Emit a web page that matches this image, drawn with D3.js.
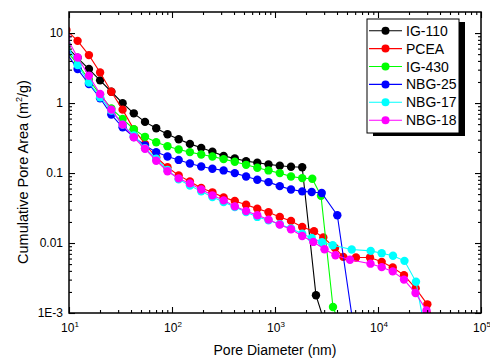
<!DOCTYPE html>
<html><head><meta charset="utf-8">
<script src="https://cdn.jsdelivr.net/npm/d3@7/dist/d3.min.js"></script>
<style>body{margin:0;background:#fff}svg{display:block;font-family:"Liberation Sans",Arial,sans-serif}</style>
</head><body>
<svg id="c" width="490" height="361"></svg>
<script>
// ---- data ----
const seriesNames = ["IG-110","PCEA","IG-430","NBG-25","NBG-17","NBG-18"];
const seriesColors = ["#000000","#ff0000","#00ff00","#0000ff","#00ffff","#ff00ff"];
const gridDiameter = [9.44,12.12,15.61,20.04,25.75,33.14,42.58,54.69,70.25,90.41,116.1,149.2,192.1,246.7,317.0,407.1,524.1,673.3,864.9,1113,1430,1837];

const ig110Tail = [2500,3199];
const ig110Area = [6.44,4.43,3.06,2.11,1.45,0.997,0.713,0.538,0.436,0.358,0.304,0.261,0.229,0.201,0.176,0.161,0.148,0.140,0.133,0.127,0.123,0.121,0.00179,0.00057];

const pceaTail = [2391,2944,3823,4603,6115,8356,10860,13900,17870,23220,30130,37410];
const pceaArea = [11.1,7.74,4.84,2.74,1.45,0.805,0.421,0.261,0.168,0.121,0.0925,0.0758,0.0610,0.0530,0.0449,0.0398,0.0353,0.0310,0.0275,0.0236,0.0207,0.0169,0.0147,0.0120,0.00851,0.00634,0.00621,0.00621,0.00538,0.00448,0.00348,0.00225,0.00133,0.00057];

const ig430Tail = [2301,2797,3656,4276];
const ig430Area = [5.58,3.64,2.15,1.32,0.840,0.594,0.422,0.329,0.275,0.242,0.217,0.199,0.184,0.172,0.158,0.145,0.131,0.119,0.109,0.0997,0.0894,0.0846,0.0830,0.0472,0.00122,0.00067];

const nbg25Tail = [2270,2841,4027,5848];
const nbg25Area = [5.22,3.06,1.87,1.17,0.684,0.451,0.327,0.247,0.199,0.172,0.154,0.137,0.124,0.115,0.109,0.0997,0.0894,0.0803,0.0741,0.0650,0.0583,0.0547,0.0535,0.0518,0.0249,0.00057];

const nbg17Tail = [2270,2858,3631,5556,8491,10860,13980,18070,23380,29910];
const nbg17Area = [7.18,3.49,1.97,1.21,0.780,0.492,0.344,0.226,0.160,0.111,0.0811,0.0665,0.0547,0.0454,0.0385,0.0327,0.0277,0.0236,0.0211,0.0185,0.0161,0.0136,0.0118,0.01026,0.00930,0.00808,0.00772,0.00716,0.00659,0.00556,0.00279,0.00040];

const nbg18Tail = [2355,3024,3864,5346,8453,10860,13900,17870,23130,29580,37410];
const nbg18Area = [8.83,4.48,2.46,1.35,0.805,0.492,0.324,0.222,0.150,0.106,0.0838,0.0711,0.0583,0.0480,0.0407,0.0334,0.0286,0.0249,0.0216,0.0183,0.0157,0.0126,0.01037,0.00816,0.00670,0.00578,0.00507,0.00452,0.00393,0.00300,0.00193,0.00109,0.00041];

const xTickValues = [10,100,1000,10000,100000];
const xTickExponents = ["1","2","3","4","5"];
const yTickValues = [0.001,0.01,0.1,1,10];
const yTickLabels = ["1E-3","0.01","0.1","1","10"];

// ---- build ----
const tails = [ig110Tail,pceaTail,ig430Tail,nbg25Tail,nbg17Tail,nbg18Tail];
const areas = [ig110Area,pceaArea,ig430Area,nbg25Area,nbg17Area,nbg18Area];
const series = seriesNames.map((n,i)=>{
  const xs = gridDiameter.concat(tails[i]);
  return {name:n,color:seriesColors[i],pts:areas[i].map((v,j)=>({x:xs[j],y:v}))};
});

const L=69,R=481,T=12,B=313;
const x = d3.scaleLog().domain([10,1e5]).range([L,R]);
const y = d3.scaleLog().domain([0.001,20]).range([B,T]);
const svg = d3.select("#c");

svg.append("defs").append("clipPath").attr("id","clip")
  .append("rect").attr("x",L).attr("y",T).attr("width",R-L).attr("height",B-T);

const minorOf = (majors)=>{const m=[];majors.slice(0,-1).forEach(d=>{for(let k=2;k<=9;k++)m.push(d*k);});return m;};
const xMinor = minorOf(xTickValues);
const yMinor = minorOf(yTickValues);

// data
const plot = svg.append("g").attr("clip-path","url(#clip)");
const line = d3.line().x(d=>x(d.x)).y(d=>y(d.y));
series.forEach(s=>{
  const g = plot.append("g");
  g.append("path").attr("d",line(s.pts)).attr("fill","none").attr("stroke",s.color).attr("stroke-width",1.1);
  g.selectAll("circle").data(s.pts).join("circle")
    .attr("cx",d=>x(d.x)).attr("cy",d=>y(d.y)).attr("r",4.2).attr("fill",s.color);
});

// axes
function styleAxis(g){g.select(".domain").remove();g.selectAll("line").attr("stroke","#000").attr("stroke-width",1.1);g.selectAll("text").remove();}
svg.append("g").attr("transform",`translate(0,${B})`).call(d3.axisBottom(x).tickValues(xTickValues).tickSize(-6)).call(styleAxis);
svg.append("g").attr("transform",`translate(0,${B})`).call(d3.axisBottom(x).tickValues(xMinor).tickSize(-3)).call(styleAxis);
svg.append("g").attr("transform",`translate(0,${T})`).call(d3.axisTop(x).tickValues(xTickValues).tickSize(-6)).call(styleAxis);
svg.append("g").attr("transform",`translate(0,${T})`).call(d3.axisTop(x).tickValues(xMinor).tickSize(-3)).call(styleAxis);
svg.append("g").attr("transform",`translate(${L},0)`).call(d3.axisLeft(y).tickValues(yTickValues).tickSize(-6)).call(styleAxis);
svg.append("g").attr("transform",`translate(${L},0)`).call(d3.axisLeft(y).tickValues(yMinor).tickSize(-3)).call(styleAxis);
svg.append("g").attr("transform",`translate(${R},0)`).call(d3.axisRight(y).tickValues(yTickValues).tickSize(-6)).call(styleAxis);
svg.append("g").attr("transform",`translate(${R},0)`).call(d3.axisRight(y).tickValues(yMinor).tickSize(-3)).call(styleAxis);
svg.append("rect").attr("x",L).attr("y",T).attr("width",R-L).attr("height",B-T)
  .attr("fill","none").attr("stroke","#000").attr("stroke-width",1.5);

// tick labels
xTickValues.forEach((v,i)=>{
  const t = svg.append("text").attr("x",x(v)+1).attr("y",332).attr("text-anchor","middle").attr("font-size",12).attr("fill","#000");
  t.append("tspan").text("10");
  t.append("tspan").attr("font-size",8).attr("dy",-5).text(xTickExponents[i]);
});
yTickValues.forEach((v,i)=>{
  svg.append("text").attr("x",63).attr("y",y(v)+4.3).attr("text-anchor","end").attr("font-size",12).attr("fill","#000").text(yTickLabels[i]);
});

// titles
svg.append("text").attr("x",(L+R)/2).attr("y",355).attr("text-anchor","middle").attr("font-size",14).text("Pore Diameter (nm)");
const yt = svg.append("text").attr("transform",`translate(28,172) rotate(-90)`).attr("text-anchor","middle").attr("font-size",14.5);
yt.append("tspan").text("Cumulative Pore Area (m");
yt.append("tspan").attr("font-size",9).attr("dy",-6).text("2");
yt.append("tspan").attr("dy",6).text("/g)");

// legend
const lg = svg.append("g");
lg.append("rect").attr("x",373).attr("y",22).attr("width",92).attr("height",114).attr("fill","#000");
lg.append("rect").attr("x",367).attr("y",19).attr("width",92).attr("height",114).attr("fill","#fff").attr("stroke","#000").attr("stroke-width",1);
series.forEach((s,i)=>{
  const yy = 30.7 + i*17.9;
  lg.append("line").attr("x1",369).attr("x2",402).attr("y1",yy).attr("y2",yy).attr("stroke",s.color).attr("stroke-width",1.1);
  lg.append("circle").attr("cx",385.5).attr("cy",yy).attr("r",4).attr("fill",s.color);
  lg.append("text").attr("x",406).attr("y",yy+5).attr("font-size",14).text(s.name);
});
</script>
</body></html>
